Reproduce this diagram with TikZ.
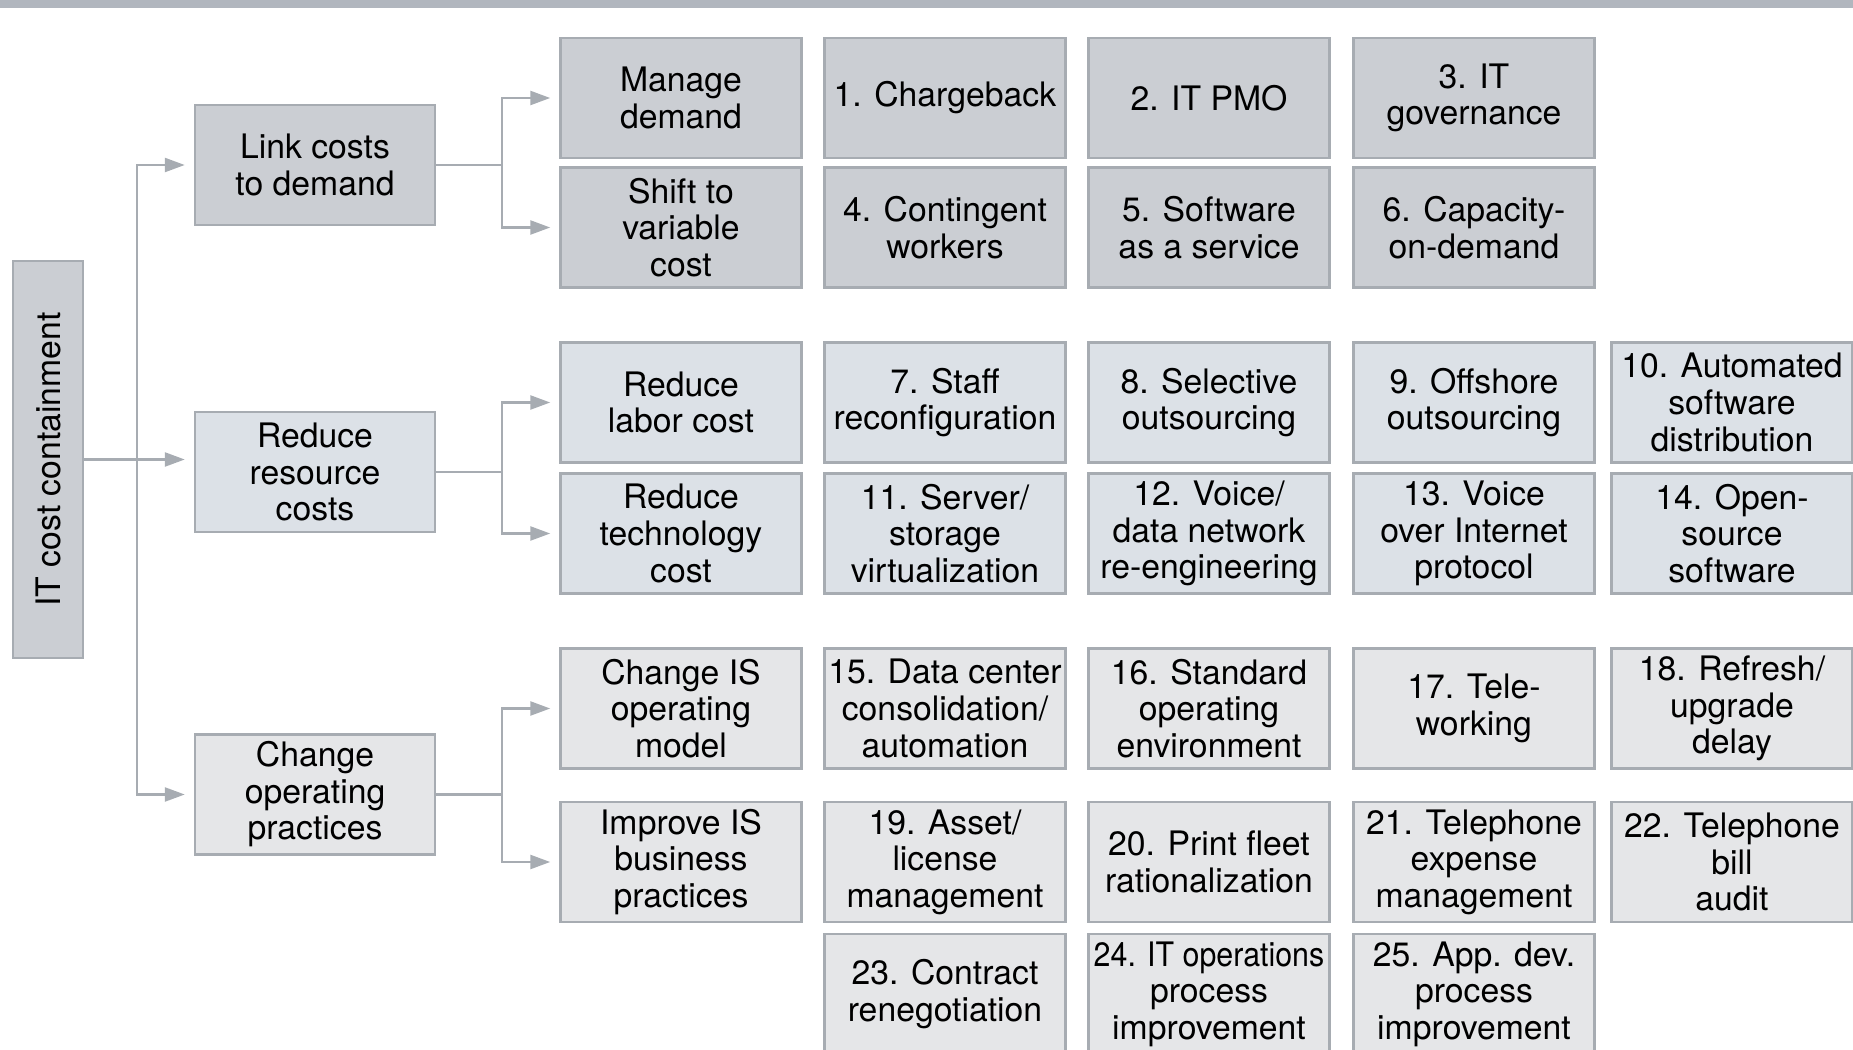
\documentclass[tikz,border=0pt]{standalone}
\usepackage{fontspec}
\setmainfont{TeX Gyre Heros}
\usepackage{tikz}
\usetikzlibrary{arrows.meta}

\definecolor{barGrey}{HTML}{B1B6BE}
\definecolor{edgeGrey}{HTML}{A7ACB2}
\definecolor{demandGrey}{HTML}{CBCED3}
\definecolor{resourceBlue}{HTML}{DCE1E7}
\definecolor{practiceGrey}{HTML}{E5E6E8}

\begin{document}
\begin{tikzpicture}[x=0.1mm,y=-0.1mm]
          \useasboundingbox (0,0) rectangle (1853,1050);
          \clip (0,0) rectangle (1853,1050);
          \fill[barGrey] (0,0) rectangle (1853,8);
          \tikzset{BoxStyle/.style = {
              shape = rectangle,
              draw = edgeGrey,
              line width = 0.7pt,
              align = center,
              inner xsep = 0pt,
              inner ysep = 1pt,
              minimum width = 24.1mm,
              minimum height = 12mm,
              font = \fontsize{9.6}{10.4}\selectfont},
            LineStyle/.style = {
              draw = edgeGrey,
              line width = 0.7pt},
            LinkStyle/.style = {
              LineStyle,
              -{Triangle[length=2mm,width=1.4mm]},
              shorten > = 0.9mm}}
          % root and first level
          \node[BoxStyle, fill=demandGrey, minimum width=7mm, minimum height=39.7mm]
            (root) at (48,459.5) {\rotatebox{90}{IT cost containment}};
          \node[BoxStyle, fill=demandGrey, minimum width=24mm] (link) at (315,165) {Link costs\\to demand};
          \node[BoxStyle, fill=resourceBlue, minimum width=24mm] (reduce) at (315,472) {Reduce\\resource\\costs};
          \node[BoxStyle, fill=practiceGrey, minimum width=24mm] (change) at (315,794.5) {Change\\operating\\practices};
          \coordinate (trunk) at (137,459.5);
          \draw[LinkStyle] (root.east) -- (root.east -| reduce.west);
          \draw[LinkStyle] (trunk) |- (link.west);
          \draw[LinkStyle] (trunk) |- (change.west);
          \begin{scope}[every node/.style={BoxStyle, fill=demandGrey}]
            \node (demand) at (681,98) {Manage\\demand};
            \node (n1) at (945,98) {1. Chargeback};
            \node (n2) at (1209,98) {2. IT PMO};
            \node (n3) at (1474,98) {3. IT\\governance};
            \node (shift) at (681,227.5) {Shift to\\variable\\cost};
            \node (n4) at (945,227.5) {4. Contingent\\workers};
            \node (n5) at (1209,227.5) {5. Software\\as a service};
            \node (n6) at (1474,227.5) {6. Capacity-\\on-demand};
          \end{scope}
          \draw[LineStyle] (link.east) -- ++(66,0) coordinate (linkfork);
          \draw[LinkStyle] (linkfork) |- (demand.west);
          \draw[LinkStyle] (linkfork) |- (shift.west);
          \begin{scope}[every node/.style={BoxStyle, fill=resourceBlue}]
            \node (labor) at (681,402.5) {Reduce\\labor cost};
            \node (n7) at (945,402.5) {7. Staff\\reconfiguration};
            \node (n8) at (1209,402.5) {8. Selective\\outsourcing};
            \node (n9) at (1474,402.5) {9. Offshore\\outsourcing};
            \node (n10) at (1732,402.5) {10. Automated\\software\\distribution};
            \node (tech) at (681,533.5) {Reduce\\technology\\cost};
            \node (n11) at (945,533.5) {11. Server/\\storage\\virtualization};
            \node (n12) at (1209,533.5) {12. Voice/\\data network\\re-engineering};
            \node (n13) at (1474,533.5) {13. Voice\\over Internet\\protocol};
            \node (n14) at (1732,533.5) {14. Open-\\source\\software};
          \end{scope}
          \draw[LineStyle] (reduce.east) -- ++(66,0) coordinate (reducefork);
          \draw[LinkStyle] (reducefork) |- (labor.west);
          \draw[LinkStyle] (reducefork) |- (tech.west);
          \begin{scope}[every node/.style={BoxStyle, fill=practiceGrey}]
            \node (model) at (681,708.5) {Change IS\\operating\\model};
            \node (n15) at (945,708.5) {15. Data center\\consolidation/\\automation};
            \node (n16) at (1209,708.5) {16. Standard\\operating\\environment};
            \node (n17) at (1474,708.5) {17. Tele-\\working};
            \node (n18) at (1732,708.5) {18. Refresh/\\upgrade\\delay};
            \node (business) at (681,862) {Improve IS\\business\\practices};
            \node (n19) at (945,862) {19. Asset/\\license\\management};
            \node (n20) at (1209,862) {20. Print fleet\\rationalization};
            \node (n21) at (1474,862) {21. Telephone\\expense\\management};
            \node (n22) at (1732,862) {22. Telephone\\bill\\audit};
            \node (n23) at (945,994) {23. Contract\\renegotiation};
            \node (n24) at (1209,994) {\scalebox{0.9}[1]{24. IT operations}\\process\\improvement};
            \node (n25) at (1474,994) {25. App. dev.\\process\\improvement};
          \end{scope}
          \draw[LineStyle] (change.east) -- ++(66,0) coordinate (changefork);
          \draw[LinkStyle] (changefork) |- (model.west);
          \draw[LinkStyle] (changefork) |- (business.west);
        \end{tikzpicture}
\end{document}
